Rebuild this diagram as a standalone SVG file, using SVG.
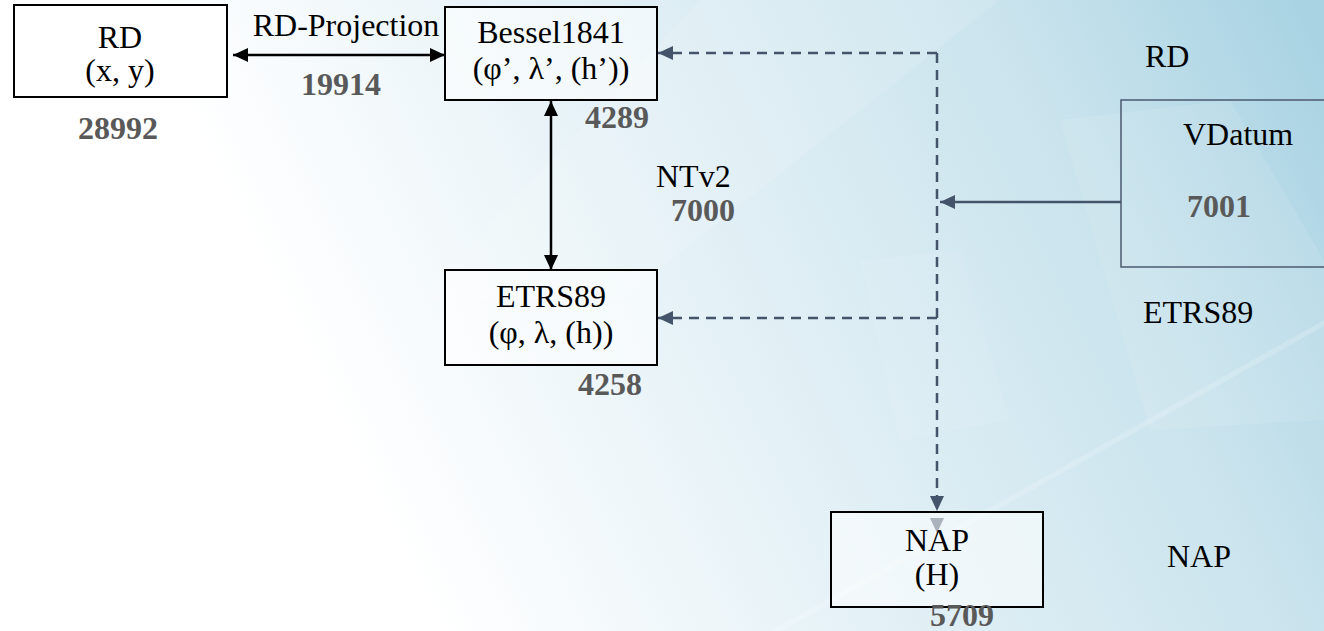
<svg xmlns="http://www.w3.org/2000/svg" width="1324" height="631" viewBox="0 0 1324 631">
<defs>
<linearGradient id="bg" x1="380" y1="520" x2="1324" y2="60" gradientUnits="userSpaceOnUse">
<stop offset="0" stop-color="#ffffff"/>
<stop offset="0.35" stop-color="#e6f2f7"/>
<stop offset="0.75" stop-color="#c9e3ed"/>
<stop offset="1" stop-color="#a9d3e3"/>
</linearGradient>
<marker id="ab" markerUnits="userSpaceOnUse" markerWidth="16" markerHeight="14" refX="15" refY="7" orient="auto-start-reverse">
<path d="M0,0 L15,7 L0,14 Z" fill="#000"/>
</marker>
<marker id="as" markerUnits="userSpaceOnUse" markerWidth="16" markerHeight="14" refX="15" refY="7" orient="auto-start-reverse">
<path d="M0,0 L15,7 L0,14 Z" fill="#44546a"/>
</marker>
<style>
.box{fill:#ffffff;fill-opacity:0.55;stroke:#000;stroke-width:2}
.t{font-size:32px;fill:#000}
.n{font-size:32px;font-weight:bold;fill:#595959}
.m{text-anchor:middle}
.solid{stroke:#000;stroke-width:2.5;fill:none}
.dash{stroke:#44546a;stroke-width:2.5;fill:none;stroke-dasharray:10 7}
</style>
</defs>
<rect x="0" y="0" width="1324" height="631" fill="url(#bg)"/>
<g id="background-shapes" fill="#ffffff">
<polygon points="700,0 1000,0 620,300 420,300" fill-opacity="0.12"/>
<polygon points="1060,120 1230,100 1324,260 1324,420 1150,430" fill-opacity="0.10"/>
<polygon points="770,631 1324,320 1324,326 782,631" fill-opacity="0.18"/>
<polygon points="860,260 960,250 1010,420 900,440" fill-opacity="0.08"/>
</g>

<g id="connectors">
<path class="solid" d="M233,55 H445" marker-start="url(#ab)" marker-end="url(#ab)"/>
<path class="solid" d="M551,101 V270" marker-start="url(#ab)" marker-end="url(#ab)"/>
<path class="dash" d="M937,53 H658" marker-end="url(#as)"/>
<path class="dash" d="M937,318 H658" marker-end="url(#as)"/>
<path class="dash" d="M937,53 V511" marker-end="url(#as)"/>
<path d="M937,528 V533" stroke="none" fill="none" marker-end="url(#as)"/>
<path d="M1121,202 H940" stroke="#44546a" stroke-width="2.5" fill="none" marker-end="url(#as)"/>
</g>

<g font-family="Liberation Serif, Times New Roman, serif">
<g id="rd">
<rect class="box" x="14" y="5" width="213" height="92" style="fill-opacity:1"/>
<text class="t m" x="120" y="48">RD</text>
<text class="t m" x="120" y="81">(x, y)</text>
<text class="n m" x="118" y="139">28992</text>
</g>

<g id="rd-projection">
<text class="t m" x="346" y="36">RD-Projection</text>
<text class="n m" x="341" y="95">19914</text>
</g>

<g id="bessel">
<rect class="box" x="445" y="7" width="212" height="93"/>
<text class="t m" x="551" y="43">Bessel1841</text>
<text class="t m" x="551" y="79">(φ’, λ’, (h’))</text>
<text class="n m" x="617" y="128">4289</text>
</g>

<g id="ntv2">
<text class="t" x="656" y="187">NTv2</text>
<text class="n" x="671" y="221">7000</text>
</g>

<g id="etrs89">
<rect class="box" x="445" y="270" width="212" height="95"/>
<text class="t m" x="551" y="307">ETRS89</text>
<text class="t m" x="551" y="343">(φ, λ, (h))</text>
<text class="n m" x="610" y="395">4258</text>
</g>

<g id="vdatum">
<rect x="1121" y="100" width="215" height="167" fill="none" stroke="#4b5a70" stroke-width="1.5"/>
<text class="t" x="1145" y="67">RD</text>
<text class="t" x="1183" y="145">VDatum</text>
<text class="n" x="1187" y="217">7001</text>
<text class="t" x="1143" y="323">ETRS89</text>
</g>

<g id="nap">
<rect class="box" x="831" y="512" width="212" height="95"/>
<text class="t m" x="937" y="551">NAP</text>
<text class="t m" x="937" y="585">(H)</text>
<text class="n m" x="962" y="626">5709</text>
<text class="t" x="1167" y="567">NAP</text>
</g>
</g>
</svg>
